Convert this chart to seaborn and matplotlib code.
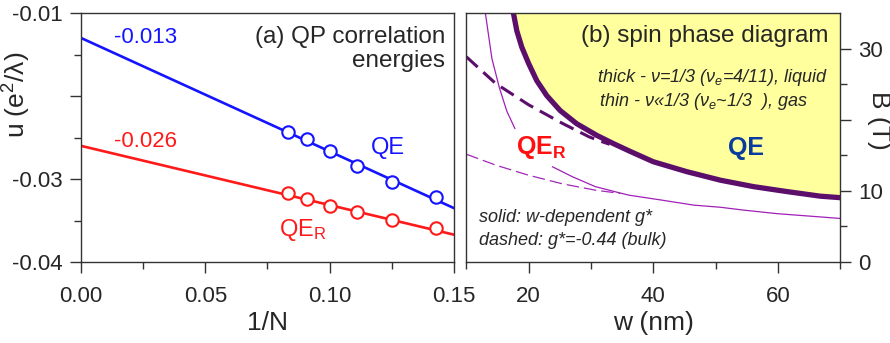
import numpy as np
import pandas as pd
import matplotlib
matplotlib.use('Agg')
import matplotlib.pyplot as plt
from matplotlib.ticker import MultipleLocator, FixedLocator
import seaborn as sns

# (a) QP correlation energies vs 1/N
inv_n = [1/12, 1/11, 1/10, 1/9, 1/8, 1/7]
qe_u = [-0.0243, -0.0252, -0.0266, -0.0284, -0.0303, -0.0322]
qer_u = [-0.0317, -0.0324, -0.0332, -0.0340, -0.0349, -0.0359]
fit_x = [0.0, 0.15]
qe_fit = [-0.013, -0.0335]
qer_fit = [-0.026, -0.0367]

# (b) spin phase diagram, B (T) vs w (nm)
thick_w = [17.55, 18.1, 18.9, 20.0, 21.3, 22.9, 25.05, 27.7, 30.95, 33.6, 36.3,
           40.0, 45.4, 50.8, 56.1, 61.5, 66.8, 70.0]
thick_b = [35.0, 32.5, 30.2, 27.9, 25.5, 23.4, 21.3, 19.45, 17.8, 16.65, 15.55,
           14.1, 12.7, 11.5, 10.6, 9.9, 9.26, 9.05]
thick_dash_w = [10.0, 14.7, 20.0, 25.4, 29.7, 31.5, 33.0]
thick_dash_b = [28.85, 25.1, 22.1, 19.5, 17.6, 17.0, 16.55]
thin_top_w = [13.05, 14.1, 15.3, 16.5, 17.8]
thin_top_b = [35.0, 28.6, 24.5, 21.2, 18.75]
thin_w = [23.8, 27.0, 30.7, 34.7, 36.1, 41.4, 46.5, 50.8, 54.5, 59.9, 65.2, 70.0]
thin_b = [13.4, 12.0, 10.6, 9.7, 9.4, 8.7, 8.0, 7.7, 7.3, 6.8, 6.45, 6.13]
thin_dash_w = [10.0, 14.8, 20.0, 25.4, 30.7, 34.7]
thin_dash_b = [15.15, 13.6, 12.2, 11.0, 10.1, 9.65]

sns.set_style('ticks')
plt.rcParams['font.family'] = ['Liberation Sans', 'DejaVu Sans']
plt.rcParams['mathtext.fontset'] = 'custom'
plt.rcParams['mathtext.rm'] = 'Liberation Sans'
plt.rcParams['mathtext.it'] = 'Liberation Sans:italic'
plt.rcParams['mathtext.bf'] = 'Liberation Sans:bold'

fig = plt.figure(figsize=(8.9, 3.43), dpi=100)
ax1 = fig.add_axes([0.091, 0.236, 0.419, 0.726])
ax2 = fig.add_axes([0.524, 0.236, 0.420, 0.726])

blue = '#1414ff'
red = '#ff1a1a'

# panel (a)
sns.lineplot(x=fit_x, y=qe_fit, ax=ax1, color=blue, lw=1.9)
sns.lineplot(x=fit_x, y=qer_fit, ax=ax1, color=red, lw=1.9)
sns.scatterplot(x=inv_n, y=qe_u, ax=ax1, s=80, facecolor='white',
                edgecolor=blue, linewidth=1.5, zorder=3)
sns.scatterplot(x=inv_n, y=qer_u, ax=ax1, s=80, facecolor='white',
                edgecolor=red, linewidth=1.5, zorder=3)
ax1.set_xlim(0, 0.15)
ax1.set_ylim(-0.04, -0.01)
ax1.xaxis.set_major_locator(FixedLocator([0, 0.05, 0.10, 0.15]))
ax1.set_xticklabels(['0.00', '0.05', '0.10', '0.15'])
ax1.xaxis.set_minor_locator(MultipleLocator(0.025))
ax1.yaxis.set_major_locator(FixedLocator([-0.04, -0.03, -0.02, -0.01]))
ax1.set_yticklabels(['-0.04', '-0.03', '', '-0.01'])
ax1.yaxis.set_minor_locator(MultipleLocator(0.005))
ax1.set_xlabel('1/N', fontsize=19, labelpad=3)
ax1.set_ylabel('u (e$^2$/λ)', fontsize=19)
ax1.yaxis.set_label_coords(-0.129, 0.67)
ax1.text(0.0133, -0.0129, '-0.013', color=blue, fontsize=16, va='center')
ax1.text(0.0133, -0.0255, '-0.026', color=red, fontsize=16, va='center')
ax1.text(0.1165, -0.0262, 'QE', color=blue, fontsize=17, va='center')
ax1.text(0.0795, -0.0361, 'QE$_\\mathregular{R}$', color=red, fontsize=17, va='center')
ax1.text(0.1465, -0.0116, '(a) QP correlation\nenergies', fontsize=17.5,
         ha='right', va='top', linespacing=1.1)

# panel (b)
ax2.fill_between(thick_w, thick_b, 35, color='#ffff9e', lw=0)
sns.lineplot(x=thick_dash_w, y=thick_dash_b, ax=ax2, color='#5c0e6b', lw=2.2,
             linestyle=(0, (5, 2.5)), sort=False)
sns.lineplot(x=thin_dash_w, y=thin_dash_b, ax=ax2, color='#a228b8', lw=0.9,
             linestyle=(0, (10, 4)), sort=False)
sns.lineplot(x=thin_top_w, y=thin_top_b, ax=ax2, color='#a020b8', lw=0.9, sort=False)
sns.lineplot(x=thin_w, y=thin_b, ax=ax2, color='#a020b8', lw=0.9, sort=False)
sns.lineplot(x=thick_w, y=thick_b, ax=ax2, color='#5c0e6b', lw=3.8, sort=False,
             solid_capstyle='round')
ax2.set_xlim(10, 70)
ax2.set_ylim(0, 35)
ax2.xaxis.set_major_locator(FixedLocator([20, 40, 60]))
ax2.xaxis.set_minor_locator(FixedLocator([10, 30, 50, 70]))
ax2.yaxis.tick_right()
ax2.yaxis.set_label_position('right')
ax2.yaxis.set_major_locator(FixedLocator([0, 10, 20, 30]))
ax2.set_yticklabels(['0', '10', '', '30'])
ax2.yaxis.set_minor_locator(FixedLocator([5, 15, 25]))
ax2.set_xlabel('w (nm)', fontsize=19, labelpad=3)
ax2.set_ylabel('B (T)', fontsize=19, rotation=270, va='center')
ax2.yaxis.set_label_coords(1.103, 0.57)
ax2.text(68.1, 31.8, '(b) spin phase diagram', fontsize=17.5, ha='right', va='center')
ax2.text(68.1, 25.9, 'thick - ν=1/3 (ν$_\\mathit{e}$=4/11), liquid', fontsize=13,
         style='italic', ha='right', va='center')
ax2.text(31.3, 22.6, 'thin - ν«1/3 (ν$_\\mathit{e}$~1/3  ), gas', fontsize=13,
         style='italic', ha='left', va='center')
ax2.text(18.0, 16.1, 'QE$_\\mathbf{R}$', color='#ff1010', fontsize=18,
         fontweight='bold', va='center')
ax2.text(52.0, 16.1, 'QE', color='#0a3ca0', fontsize=18, fontweight='bold',
         va='center')
ax2.text(12.0, 6.3, 'solid: w-dependent g*', fontsize=13, style='italic', va='center')
ax2.text(12.0, 3.0, 'dashed: g*=-0.44 (bulk)', fontsize=13, style='italic', va='center')

for ax in (ax1, ax2):
    for s in ax.spines.values():
        s.set_visible(True)
        s.set_color('#333333')
        s.set_linewidth(1.0)
    ax.tick_params(which='major', length=8, width=1.0, color='#333333',
                   labelsize=16)
    ax.tick_params(which='minor', length=5, width=1.0, color='#333333')
    ax.tick_params(axis='x', which='major', pad=9)
    ax.tick_params(axis='y', which='major', pad=5)

fig.savefig('out.png', dpi=100)
